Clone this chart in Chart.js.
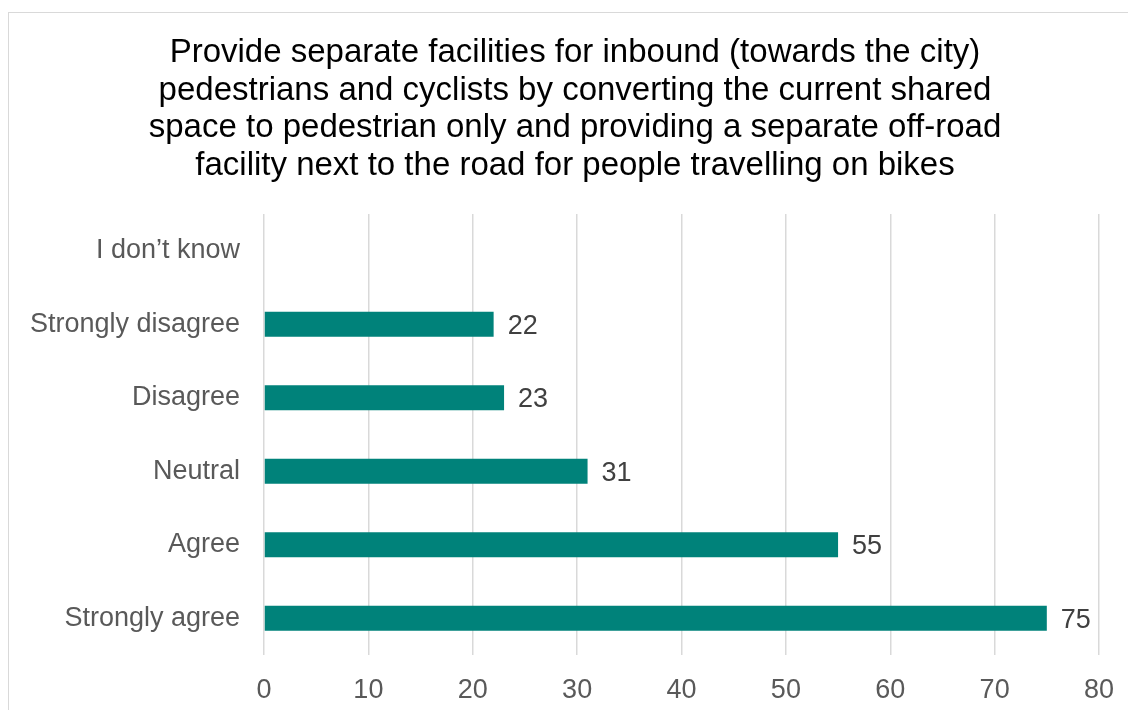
<!DOCTYPE html>
<html>
<head>
<meta charset="utf-8">
<script src="https://cdn.jsdelivr.net/npm/chart.js@4"></script>
<style>
  body { margin: 0; background: #fff; overflow: hidden; }
  #box {
    position: absolute;
    left: 8px;
    top: 12px;
    width: 1132px;
    height: 720px;
    border: 1px solid #d9d9d9;
  }
</style>
</head>
<body>
<div id="box"><canvas id="myChart"></canvas></div>
<script>
const categories = ["I don\u2019t know", "Strongly disagree", "Disagree", "Neutral", "Agree", "Strongly agree"];
const responses = [null, 22, 23, 31, 55, 75];
const xTicks = [0, 10, 20, 30, 40, 50, 60, 70, 80];
const titleLines = [
  "Provide separate facilities for inbound (towards the city)",
  "pedestrians and cyclists by converting the current shared",
  "space to pedestrian only and providing a separate off-road",
  "facility next to the road for people travelling on bikes",
];

const FONT = "'Liberation Sans', Arial, sans-serif";

// title centred on the whole chart box, not on the plot area
const centredTitle = {
  id: "centredTitle",
  afterDraw(chart) {
    const ctx = chart.ctx;
    ctx.save();
    ctx.font = "33px " + FONT;
    ctx.fillStyle = "#000000";
    ctx.textAlign = "center";
    ctx.textBaseline = "middle";
    titleLines.forEach((line, i) => {
      ctx.fillText(line, chart.width / 2, 40 + i * 37.6);
    });
    ctx.restore();
  },
};

// draws the value to the right of each bar
const valueLabels = {
  id: "valueLabels",
  afterDatasetsDraw(chart) {
    const ctx = chart.ctx;
    const meta = chart.getDatasetMeta(0);
    ctx.save();
    ctx.font = "27px " + FONT;
    ctx.fillStyle = "#404040";
    ctx.textAlign = "left";
    ctx.textBaseline = "middle";
    meta.data.forEach((bar, i) => {
      if (responses[i] == null) return;
      ctx.fillText(String(responses[i]), bar.x + 14, bar.y + 2);
    });
    ctx.restore();
  },
};

const ctx = document.getElementById("myChart").getContext("2d");
const chart = new Chart(ctx, {
  type: "bar",
  data: {
    labels: categories,
    datasets: [
      {
        data: responses,
        backgroundColor: "#00827a",
        barPercentage: 0.68,
        categoryPercentage: 0.5,
      },
    ],
  },
  options: {
    indexAxis: "y",
    responsive: true,
    maintainAspectRatio: false,
    animation: false,
    layout: { padding: { left: 0, right: 42, top: 201, bottom: 0 } },
    plugins: {
      legend: { display: false },
      tooltip: { enabled: false },
      title: { display: false },
    },
    scales: {
      x: {
        min: 0,
        max: 80,
        afterBuildTicks: (scale) => {
          scale.ticks = xTicks.map((v) => ({ value: v }));
        },
        afterFit: (scale) => {
          scale.height = 78;
        },
        grid: { color: "#d9d9d9", lineWidth: 1.5, drawTicks: false },
        border: { display: false },
        ticks: {
          color: "#595959",
          padding: 19,
          font: { family: FONT, size: 27 },
        },
      },
      y: {
        afterFit: (scale) => {
          scale.width = 255;
        },
        grid: { display: false, drawTicks: false },
        border: { display: false },
        ticks: {
          color: "#595959",
          padding: 24,
          font: { family: FONT, size: 27 },
        },
      },
    },
  },
  plugins: [valueLabels, centredTitle],
});
</script>
</body>
</html>
